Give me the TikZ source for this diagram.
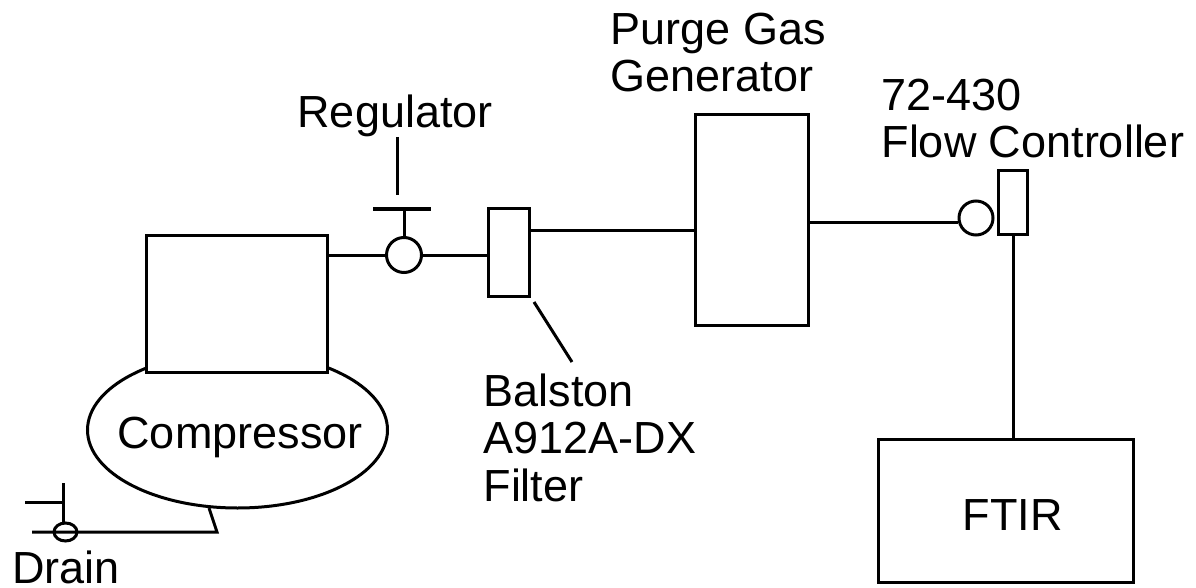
\documentclass[tikz,border=0pt]{standalone}
\usepackage{fontspec}
\setmainfont{Liberation Sans}
\usetikzlibrary{shapes.geometric}
\begin{document}
\begin{tikzpicture}[x=1pt,y=-1pt,line width=3pt,
        lbl/.style={inner sep=0pt,font=\fontsize{45}{47.5}\selectfont,align=left,anchor=base west},
        box/.style={draw,fill=white,inner sep=0pt,anchor=north west},
        valve/.style={circle,draw,fill=white,inner sep=0pt,minimum size=35pt}]
        \useasboundingbox (0,0) rectangle (1196,588);
        \node[ellipse,draw,inner sep=0pt,minimum width=300pt,minimum height=156pt] (tank) at (237.5,430) {};
        \node[box,minimum width=181pt,minimum height=137pt] (comp) at (144.5,234) {};
        \node[box,minimum width=41pt,minimum height=88pt] (filter) at (486.5,207) {};
        \node[box,minimum width=113pt,minimum height=211pt] (gen) at (693.5,113) {};
        \node[box,minimum width=29pt,minimum height=64pt] (ctrl) at (997,169) {};
        \node[box,minimum width=255pt,minimum height=143pt] (ftir) at (877,438) {};
        \node[valve] (reg) at (404,255) {};
        \node[valve,minimum size=34pt] (flow) at (976,218) {};
        \node[lbl] (reglbl) at (296,128) {Regulator};
        \node[lbl] (genlbl) at (609,92) {Purge Gas\\Generator};
        \node[lbl] (ctrllbl) at (880,158) {72-430\\Flow Controller};
        \node[lbl] (ballbl) at (482,501) {Balston\\A912A-DX\\Filter};
        \node[lbl] (ftirlbl) at (961,530) {FTIR};
        \node[lbl] (drainlbl) at (11,583) {Drain};
        \node[lbl] (complbl) at (116,448) {Compressor};
        \draw (comp.east |- reg) -- (reg);
        \draw (reg) -- (filter.west |- reg);
        \draw (filter.east |- 0,230) -- (gen.west |- 0,230);
        \draw (gen.east |- 0,222) -- (flow.west |- 0,222);
        \draw (ctrl.south) -- (ctrl.south |- ftir.north);
        \coordinate (stemtop) at (397,137);
        \coordinate (stembot) at (397,195);
        \draw (stemtop) -- (stembot);
        \coordinate (barl) at (373,209);
        \coordinate (barr) at (431,209);
        \coordinate (barmid) at (404,209);
        \draw (barl) -- (barr);
        \draw (barmid) -- (reg);
        \coordinate (leadtop) at (534,302);
        \coordinate (leadbot) at (572,362);
        \draw (leadtop) -- (leadbot);
        \node[ellipse,draw,inner sep=0pt,minimum width=23pt,minimum height=18pt] (dvalve) at (65.5,532) {};
        \coordinate (drainl) at (32,532);
        \coordinate (drainr) at (217,532);
        \coordinate (drainup) at (209,508);
        \coordinate (handlel) at (25,502);
        \coordinate (handler) at (63,502);
        \coordinate (handletop) at (63,483);
        \draw (drainl) -- (drainr) -- (drainup);
        \draw (handlel) -- (handler);
        \draw (handletop) -- (handletop |- dvalve.north);
\end{tikzpicture}
\end{document}
